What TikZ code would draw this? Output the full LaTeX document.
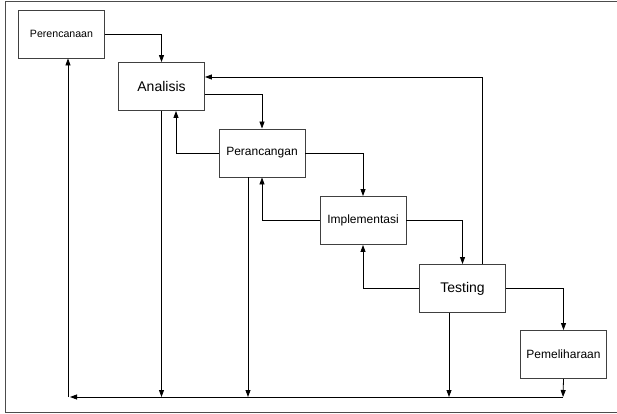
\documentclass[tikz,border=0pt]{standalone}
\usepackage{fontspec}
\setmainfont{Liberation Sans}
\usetikzlibrary{arrows.meta,calc}
\tikzset{
  stage/.style={draw=black!75, line width=0.9pt, fill=white,
    minimum width=86pt, minimum height=48pt, inner sep=0pt},
  flow/.style={line width=0.8pt, -{Triangle[length=7pt,width=5pt]}},
  small/.style={font=\fontsize{10.6}{12}\selectfont},
  mid/.style={font=\fontsize{12}{14}\selectfont},
  big/.style={font=\fontsize{14}{16}\selectfont},
}
\begin{document}
\begin{tikzpicture}[x=1pt,y=-1pt]
\useasboundingbox (0,0) rectangle (617,414);
% frame
\draw[black!70, line width=1pt] (617,2) -- (5,2) -- (5,412) -- (617,412);

% stages of the waterfall
\node[stage, small] (plan) at (61.5,34)    {Perencanaan};
\node[stage, big]   (ana)  at (161.5,86.5) {Analisis};
\node[stage, mid]   (des)  at (262,153)    {Perancangan};
\node[stage, mid]   (imp)  at (363,220.5)  {Implementasi};
\node[stage, big]   (test) at (462.5,288.5){Testing};
\node[stage, mid]   (care) at (563.5,354.5){Pemeliharaan};

% bottom return bus
\coordinate (busR) at (563,397);
\coordinate (busL) at ([xshift=6.5pt]plan.south |- busR);

% forward steps
\draw[flow] (plan.east) -| (ana.north);
\draw[flow] ([yshift=-7.5pt]ana.east) -| (des.north);
\draw[flow] (des.east) -| (imp.north);
\draw[flow] (imp.east) -| (test.north);
\draw[flow] (test.east) -| (care.north);

% feedback to previous stages
\draw[flow] (des.west) -| ([xshift=14.5pt]ana.south);
\draw[flow] (imp.west) -| (des.south);
\draw[flow] (test.west) -| (imp.south);
\draw[flow] ([xshift=19.5pt]test.north) |- ([yshift=9.5pt]ana.east);

% drops to the bus
\draw[flow] (ana.south) -- (ana.south |- busR);
\draw[flow] ([xshift=-14pt]des.south) -- ([xshift=-14pt]des.south |- busR);
\draw[flow] ([xshift=-13.5pt]test.south) -- ([xshift=-13.5pt]test.south |- busR);
\draw[flow] (care.south) -- (busR);

% bus back to planning
\draw[flow] (busR) -- ([xshift=2pt]busL);
\draw[flow] (busL) -- ([xshift=6.5pt]plan.south);
\end{tikzpicture}
\end{document}
